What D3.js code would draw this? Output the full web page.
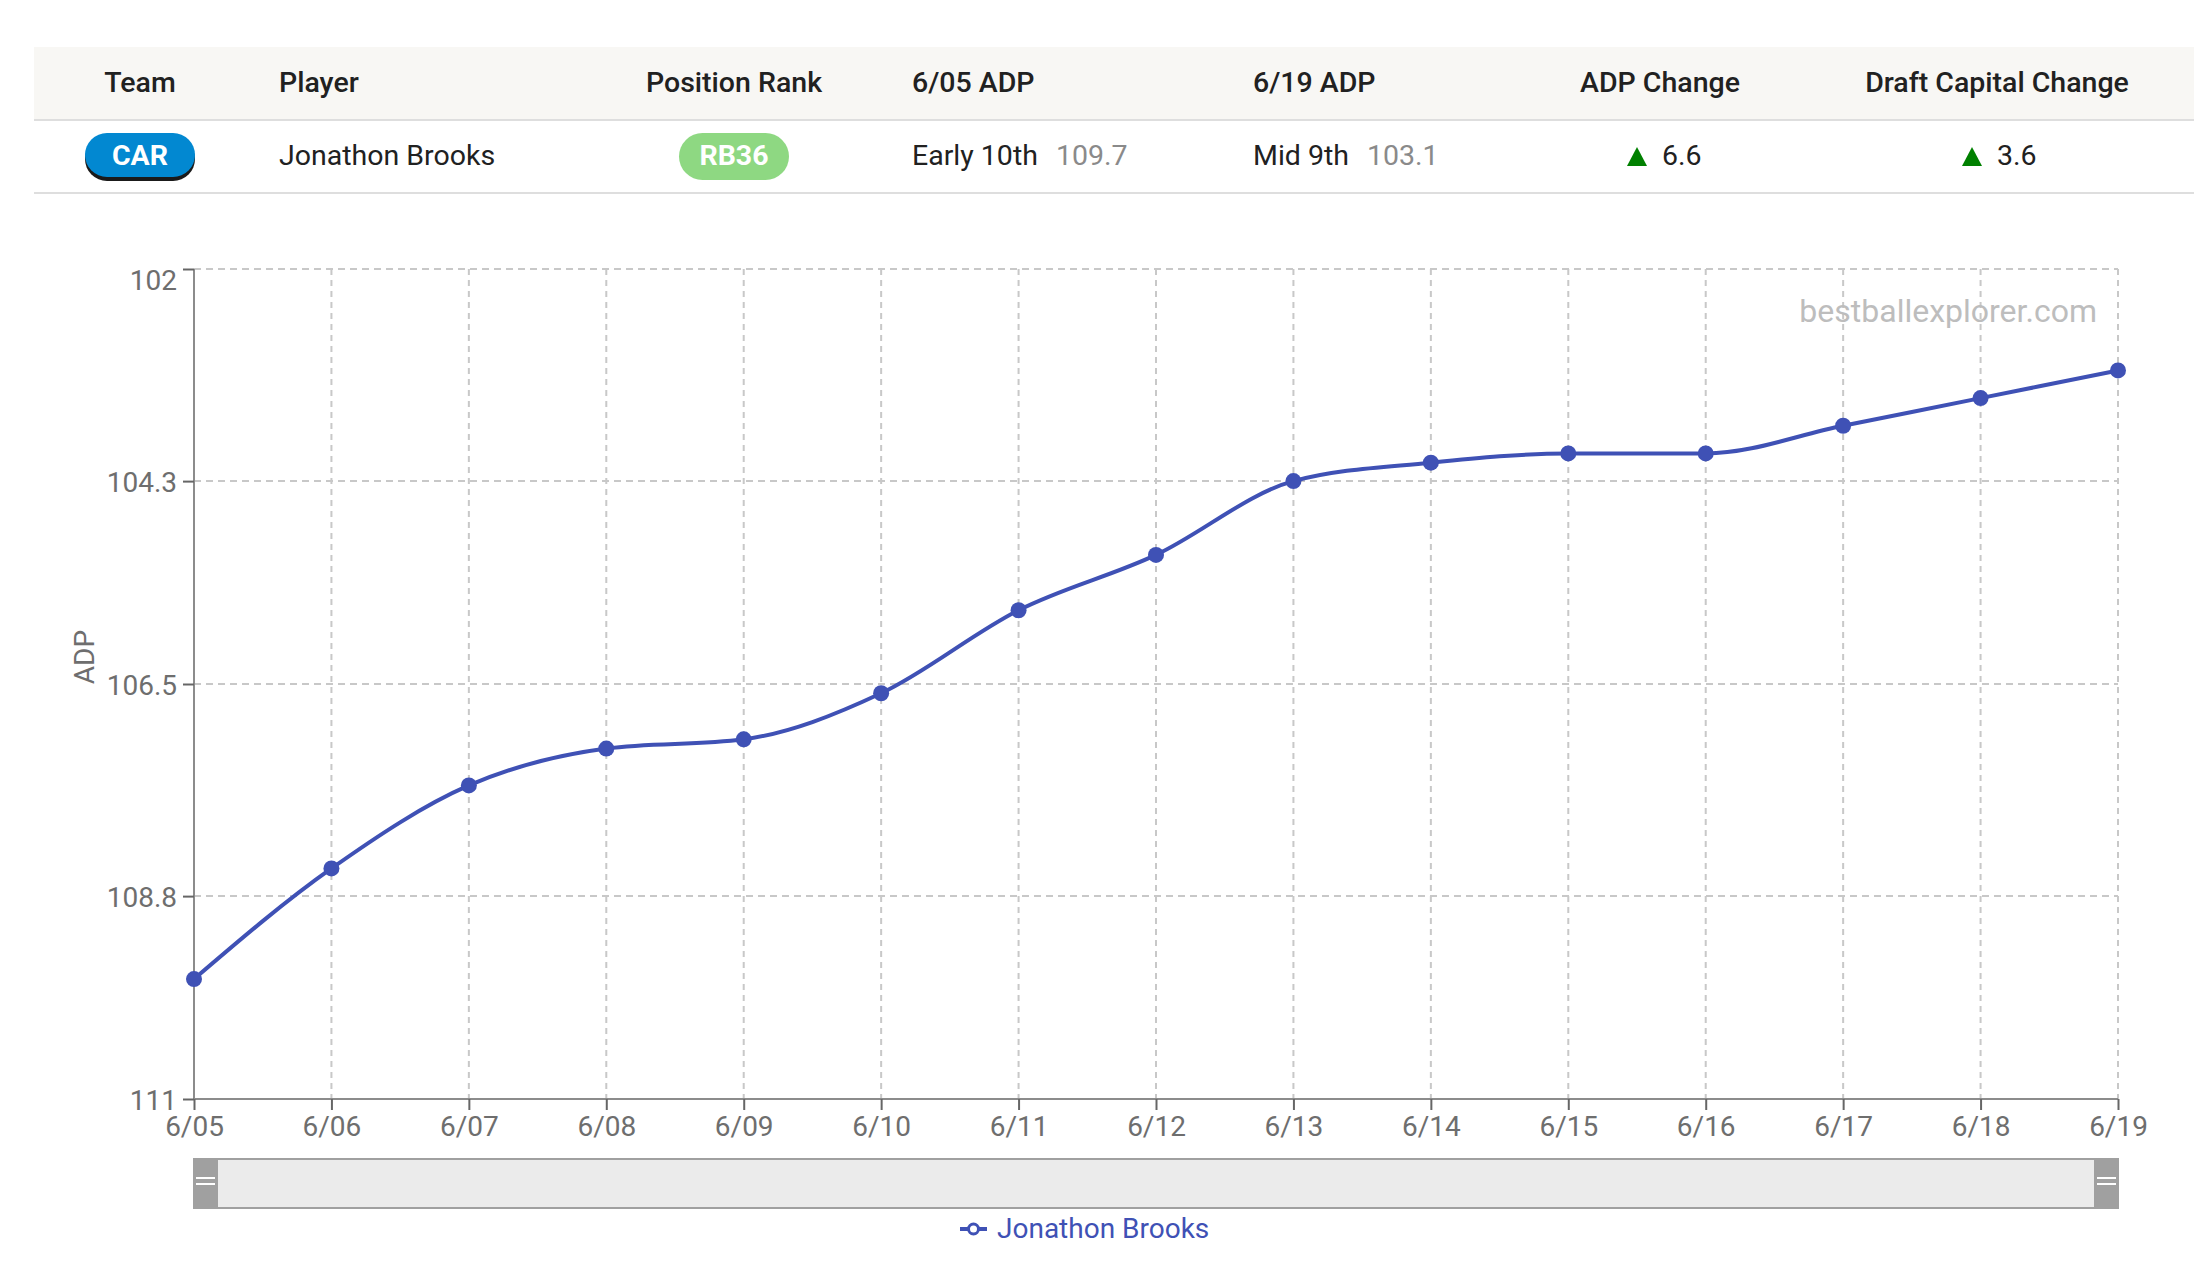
<!DOCTYPE html>
<html>
<head>
<meta charset="utf-8">
<script src="https://cdn.jsdelivr.net/npm/d3@7"></script>
<style>
  html, body { margin: 0; padding: 0; background: #fff; }
  svg { display: block; font-family: Roboto, 'Noto Sans', sans-serif; }
</style>
</head>
<body>
<script>
// table data
var columns = ['Team', 'Player', 'Position Rank', '6/05 ADP', '6/19 ADP', 'ADP Change', 'Draft Capital Change']
var team = 'CAR'
var player = 'Jonathon Brooks'
var posRank = 'RB36'
var startRound = 'Early 10th'
var startAdp = '109.7'
var endRound = 'Mid 9th'
var endAdp = '103.1'
var adpChange = '6.6'
var capitalChange = '3.6'

// chart data
var dates = ['6/05', '6/06', '6/07', '6/08', '6/09', '6/10', '6/11', '6/12', '6/13', '6/14', '6/15', '6/16', '6/17', '6/18', '6/19']
var adp = [109.7, 108.5, 107.6, 107.2, 107.1, 106.6, 105.7, 105.1, 104.3, 104.1, 104.0, 104.0, 103.7, 103.4, 103.1]
var yTicks = [102, 104.3, 106.5, 108.8, 111]

var W = 2194
var H = 1278
var lineColor = '#3f51b5'
var fs = '28.5px'

var svg = d3.select('body').append('svg')
  .attr('width', W)
  .attr('height', H)

// ---- table ----
var table = svg.append('g')
var headerTop = 47
var headerBottom = 119
var rowBottom = 193
// x anchor for each column, with alignment
var colX = [140, 279, 734, 912, 1253, 1660, 1997]
var colAnchor = ['middle', 'start', 'middle', 'start', 'start', 'middle', 'middle']

table.append('rect')
  .attr('x', 34).attr('y', headerTop)
  .attr('width', W - 34).attr('height', headerBottom - headerTop)
  .style('fill', '#f8f7f4')
table.append('line')
  .attr('x1', 34).attr('x2', W)
  .attr('y1', headerBottom + 1).attr('y2', headerBottom + 1)
  .style('stroke', '#dedede').style('stroke-width', 2)
table.append('line')
  .attr('x1', 34).attr('x2', W)
  .attr('y1', rowBottom).attr('y2', rowBottom)
  .style('stroke', '#dedede').style('stroke-width', 2)

table.selectAll('text.head')
  .data(columns)
  .enter().append('text')
  .attr('class', 'head')
  .attr('x', function (d, i) { return colX[i] })
  .attr('y', 92)
  .attr('text-anchor', function (d, i) { return colAnchor[i] })
  .style('font-size', fs)
  .style('font-weight', 500)
  .style('fill', '#212121')
  .text(function (d) { return d })

var rowY = 165
// team pill
table.append('rect')
  .attr('x', 85).attr('y', 137).attr('width', 110).attr('height', 44)
  .attr('rx', 22)
  .style('fill', '#1a1a1a')
table.append('rect')
  .attr('x', 85).attr('y', 133).attr('width', 110).attr('height', 44)
  .attr('rx', 22)
  .style('fill', '#0288d1')
table.append('text')
  .attr('x', 140).attr('y', rowY)
  .attr('text-anchor', 'middle')
  .style('font-size', fs).style('font-weight', 700).style('fill', '#fff')
  .text(team)

table.append('text')
  .attr('x', 279).attr('y', rowY)
  .style('font-size', fs).style('fill', '#212121')
  .text(player)

// position rank pill
table.append('rect')
  .attr('x', 679).attr('y', 133).attr('width', 110).attr('height', 47)
  .attr('rx', 23.5)
  .style('fill', '#8ed882')
table.append('text')
  .attr('x', 734).attr('y', rowY)
  .attr('text-anchor', 'middle')
  .style('font-size', fs).style('font-weight', 700).style('fill', '#fff')
  .text(posRank)

function adpCell (x, round, value) {
  var t = table.append('text')
    .attr('x', x).attr('y', rowY)
    .style('font-size', fs)
  t.append('tspan').style('fill', '#212121').text(round)
  t.append('tspan').attr('dx', 18).style('fill', '#8a8a8a').text(value)
}
adpCell(912, startRound, startAdp)
adpCell(1253, endRound, endAdp)

function changeCell (x, value) {
  table.append('path')
    .attr('d', 'M' + (x - 35) + ',' + (rowY + 1) + 'L' + (x - 15) + ',' + (rowY + 1) + 'L' + (x - 25) + ',' + (rowY - 18) + 'Z')
    .style('fill', '#008000')
  table.append('text')
    .attr('x', x).attr('y', rowY)
    .style('font-size', fs).style('fill', '#212121')
    .text(value)
}
changeCell(1662, adpChange)
changeCell(1997, capitalChange)

// ---- chart ----
var plotLeft = 194
var plotRight = 2118
var plotTop = 269
var plotBottom = 1099

var x = d3.scalePoint()
  .domain(dates)
  .range([plotLeft, plotRight])

var y = d3.scaleLinear()
  .domain([102, 111])
  .range([plotTop, plotBottom])

var chart = svg.append('g')

// grid
chart.append('g')
  .selectAll('line')
  .data(yTicks)
  .enter().append('line')
  .attr('x1', plotLeft).attr('x2', plotRight)
  .attr('y1', function (d) { return y(d) })
  .attr('y2', function (d) { return y(d) })
  .style('stroke', '#c8c8c8').style('stroke-width', 2)
  .style('stroke-dasharray', '7,5')

chart.append('g')
  .selectAll('line')
  .data(dates.slice(1))
  .enter().append('line')
  .attr('x1', function (d) { return x(d) })
  .attr('x2', function (d) { return x(d) })
  .attr('y1', plotTop).attr('y2', plotBottom)
  .style('stroke', '#c8c8c8').style('stroke-width', 2)
  .style('stroke-dasharray', '6,5')

// axes
var yAxis = chart.append('g')
  .attr('transform', 'translate(' + plotLeft + ',0)')
  .call(d3.axisLeft(y)
    .tickValues(yTicks)
    .tickFormat(d3.format('~f'))
    .tickSize(11)
    .tickPadding(6))
var xAxis = chart.append('g')
  .attr('transform', 'translate(0,' + plotBottom + ')')
  .call(d3.axisBottom(x)
    .tickSize(11)
    .tickPadding(6))

;[yAxis, xAxis].forEach(function (a) {
  a.select('.domain').style('stroke', '#8c8c8c').style('stroke-width', 2)
  a.selectAll('.tick line').style('stroke', '#666').style('stroke-width', 2)
  a.selectAll('.tick text')
    .style('font-family', 'Roboto, sans-serif')
    .style('font-size', '28px')
    .style('fill', '#6e6e6e')
})
yAxis.select('.domain').attr('d', 'M0,' + plotTop + 'V' + plotBottom)
xAxis.select('.domain').attr('d', 'M' + plotLeft + ',0H' + plotRight)
// top label sits below its tick, the rest are centred
yAxis.selectAll('.tick text')
  .attr('dy', function (d, i) { return i === 0 ? '0.76em' : '0.36em' })
  .attr('y', function (d, i) { return i === 0 ? -1 : 0 })
xAxis.selectAll('.tick text').attr('dy', '0.72em')

chart.append('text')
  .attr('transform', 'translate(94,657) rotate(-90)')
  .attr('text-anchor', 'middle')
  .style('font-size', '28px')
  .style('fill', '#6e6e6e')
  .text('ADP')

// watermark
chart.append('text')
  .attr('x', 2097).attr('y', 322)
  .attr('text-anchor', 'end')
  .style('font-size', '32px')
  .style('fill', '#bdbdbd')
  .text('bestballexplorer.com')

// line
var line = d3.line()
  .x(function (d, i) { return x(dates[i]) })
  .y(function (d) { return y(d) })
  .curve(d3.curveMonotoneX)

chart.append('path')
  .datum(adp)
  .attr('d', line)
  .style('fill', 'none')
  .style('stroke', lineColor)
  .style('stroke-width', 4)

chart.selectAll('circle.pt')
  .data(adp)
  .enter().append('circle')
  .attr('class', 'pt')
  .attr('cx', function (d, i) { return x(dates[i]) })
  .attr('cy', function (d) { return y(d) })
  .attr('r', 8)
  .style('fill', lineColor)

// ---- data zoom slider ----
var slider = svg.append('g')
var sTop = 1159
var sBottom = 1208
slider.append('rect')
  .attr('x', plotLeft).attr('y', sTop)
  .attr('width', plotRight - plotLeft).attr('height', sBottom - sTop)
  .style('fill', '#ebebeb')
slider.append('line')
  .attr('x1', plotLeft).attr('x2', plotRight).attr('y1', sTop).attr('y2', sTop)
  .style('stroke', '#a0a0a0').style('stroke-width', 2)
slider.append('line')
  .attr('x1', plotLeft).attr('x2', plotRight).attr('y1', sBottom).attr('y2', sBottom)
  .style('stroke', '#a0a0a0').style('stroke-width', 2)

var handles = slider.selectAll('g.handle')
  .data([dates[0], dates[dates.length - 1]])
  .enter().append('g')
  .attr('class', 'handle')
  .attr('transform', function (d, i) {
    return 'translate(' + (i === 0 ? x(d) - 1 : x(d) - 24) + ',' + (sTop - 1) + ')'
  })
handles.append('rect')
  .attr('width', 25).attr('height', sBottom - sTop + 2)
  .style('fill', '#a0a0a0')
handles.selectAll('line')
  .data([20, 26])
  .enter().append('line')
  .attr('x1', 3).attr('x2', 22)
  .attr('y1', function (d) { return d }).attr('y2', function (d) { return d })
  .style('stroke', '#fff').style('stroke-width', 2)

// ---- legend ----
var legend = svg.append('g')
  .attr('transform', 'translate(960,1229)')
legend.append('line')
  .attr('x1', 0).attr('x2', 27)
  .style('stroke', lineColor).style('stroke-width', 4)
legend.append('circle')
  .attr('cx', 13.5).attr('r', 5)
  .style('fill', '#fff').style('stroke', lineColor).style('stroke-width', 3)
legend.append('text')
  .attr('x', 37).attr('y', 9)
  .style('font-size', '28px')
  .style('fill', lineColor)
  .text(player)
</script>
</body>
</html>
